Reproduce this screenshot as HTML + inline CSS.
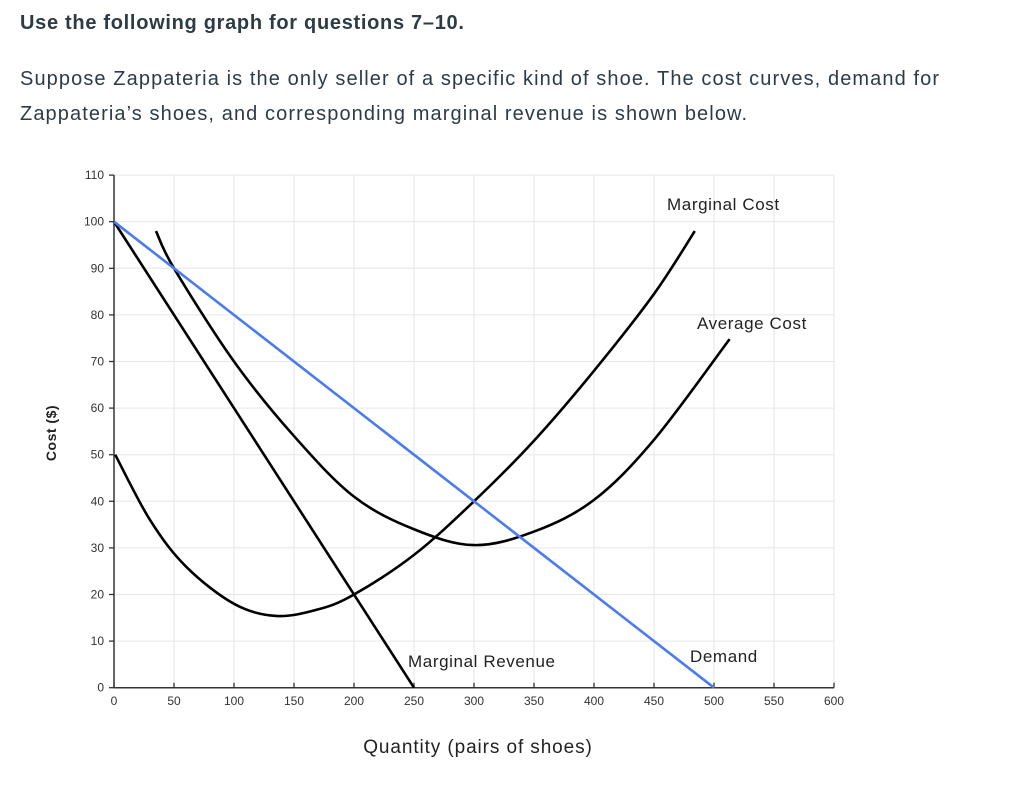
<!DOCTYPE html>
<html><head><meta charset="utf-8">
<style>
body{margin:0;background:#fff;width:1024px;height:808px;overflow:hidden;font-family:"Liberation Sans",sans-serif;}
.h{position:absolute;left:20px;top:12px;font-size:20px;font-weight:bold;color:#2d3b45;letter-spacing:0.7px;}
.p{position:absolute;left:20px;top:62px;font-size:20px;line-height:35px;color:#2d3b45;width:990px;letter-spacing:1.1px;}
svg{position:absolute;left:0;top:0;}
</style></head><body>
<div class="h">Use the following graph for questions 7–10.</div>
<div class="p">Suppose Zappateria is the only seller of a specific kind of shoe. The cost curves, demand for<br>Zappateria’s shoes, and corresponding marginal revenue is shown below.</div>
<svg id="chart" width="1024" height="808"></svg>
<script>
const xTicks=[0,50,100,150,200,250,300,350,400,450,500,550,600];
const yTicks=[0,10,20,30,40,50,60,70,80,90,100,110];
const demandQ=[0,500];
const demandP=[100,0];
const mrQ=[0,250];
const mrP=[100,0];
const mcQ=[1,30,60,100,135,170,200,250,300,350,400,450,484];
const mcP=[50,36,26,18,15.4,16.8,20,28.5,40,53,68,84.5,98];
const acQ=[35,50,100,150,200,250,300,350,400,450,513];
const acP=[98,90,70,54,41,34,30.6,33.5,40.3,53.2,74.8];
const X=q=>114+q*1.2;
const Y=p=>687.7-p*4.66;
const svg=document.getElementById('chart');
const NS='http://www.w3.org/2000/svg';
function mk(t,a,parent){const e=document.createElementNS(NS,t);for(const k in a)e.setAttribute(k,a[k]);(parent||svg).appendChild(e);return e;}
xTicks.forEach(t=>{if(t>0){const l=mk('line',{x1:X(t),x2:X(t),y1:Y(110),y2:Y(0),stroke:'#e6e6e6','stroke-width':1});

}});
yTicks.forEach(t=>{if(t>0){const l=mk('line',{x1:X(0),x2:X(600),y1:Y(t),y2:Y(t),stroke:'#e6e6e6','stroke-width':1});

}});
const ax=mk('line',{x1:X(0),x2:X(600),y1:Y(0),y2:Y(0),stroke:'#333','stroke-width':1.5});


const ay=mk('line',{x1:X(0),x2:X(0),y1:Y(110),y2:Y(0),stroke:'#333','stroke-width':1.5});


xTicks.forEach(t=>{mk('line',{x1:X(t),x2:X(t),y1:Y(0),y2:Y(0)-5,stroke:'#333','stroke-width':1.3});
const tx=mk('text',{x:X(t),y:705,'font-size':12,'text-anchor':'middle',fill:'#333'});tx.textContent=t;

});
yTicks.forEach(t=>{mk('line',{x1:X(0)-5,x2:X(0),y1:Y(t),y2:Y(t),stroke:'#333','stroke-width':1.3});
const tx=mk('text',{x:104,y:Y(t)+4,'font-size':12,'text-anchor':'end',fill:'#333'});tx.textContent=t;

});
function spline(qs,ps){const pts=qs.map((q,i)=>[X(q),Y(ps[i])]);let d='M'+pts[0][0]+','+pts[0][1];
for(let i=0;i<pts.length-1;i++){const p0=pts[Math.max(0,i-1)],p1=pts[i],p2=pts[i+1],p3=pts[Math.min(pts.length-1,i+2)];
d+=' C'+(p1[0]+(p2[0]-p0[0])/6)+','+(p1[1]+(p2[1]-p0[1])/6)+' '+(p2[0]-(p3[0]-p1[0])/6)+','+(p2[1]-(p3[1]-p1[1])/6)+' '+p2[0]+','+p2[1];}return d;}
const mr=mk('path',{d:spline(mrQ,mrP),fill:'none',stroke:'#000','stroke-width':2.6});


const mc=mk('path',{d:spline(mcQ,mcP),fill:'none',stroke:'#000','stroke-width':2.6});


const ac=mk('path',{d:spline(acQ,acP),fill:'none',stroke:'#000','stroke-width':2.6});


const dm=mk('path',{d:spline(demandQ,demandP),fill:'none',stroke:'#4a7cf0','stroke-width':2.6});


function lab(x,y,s,name,size,anchor,extra){const t=mk('text',Object.assign({x:x,y:y,'font-size':size,fill:'#222','text-anchor':anchor||'start'},extra||{}));t.textContent=s;

return t;}
lab(667,210,'Marginal Cost','label-marginal-cost',17,'start',{'letter-spacing':'0.6'});
lab(697,329,'Average Cost','label-average-cost',17,'start',{'letter-spacing':'0.6'});
lab(408,667,'Marginal Revenue','label-marginal-revenue',17,'start',{'letter-spacing':'0.6'});
lab(690,662,'Demand','label-demand',17,'start',{'letter-spacing':'0.6'});
lab(478,753,'Quantity (pairs of shoes)','x-axis-title',19,'middle',{'letter-spacing':'0.9'});
lab(56,433,'Cost ($)','y-axis-title',14,'middle',{transform:'rotate(-90 56 433)','font-weight':'bold','letter-spacing':'0.5'});
</script>
</body></html>
